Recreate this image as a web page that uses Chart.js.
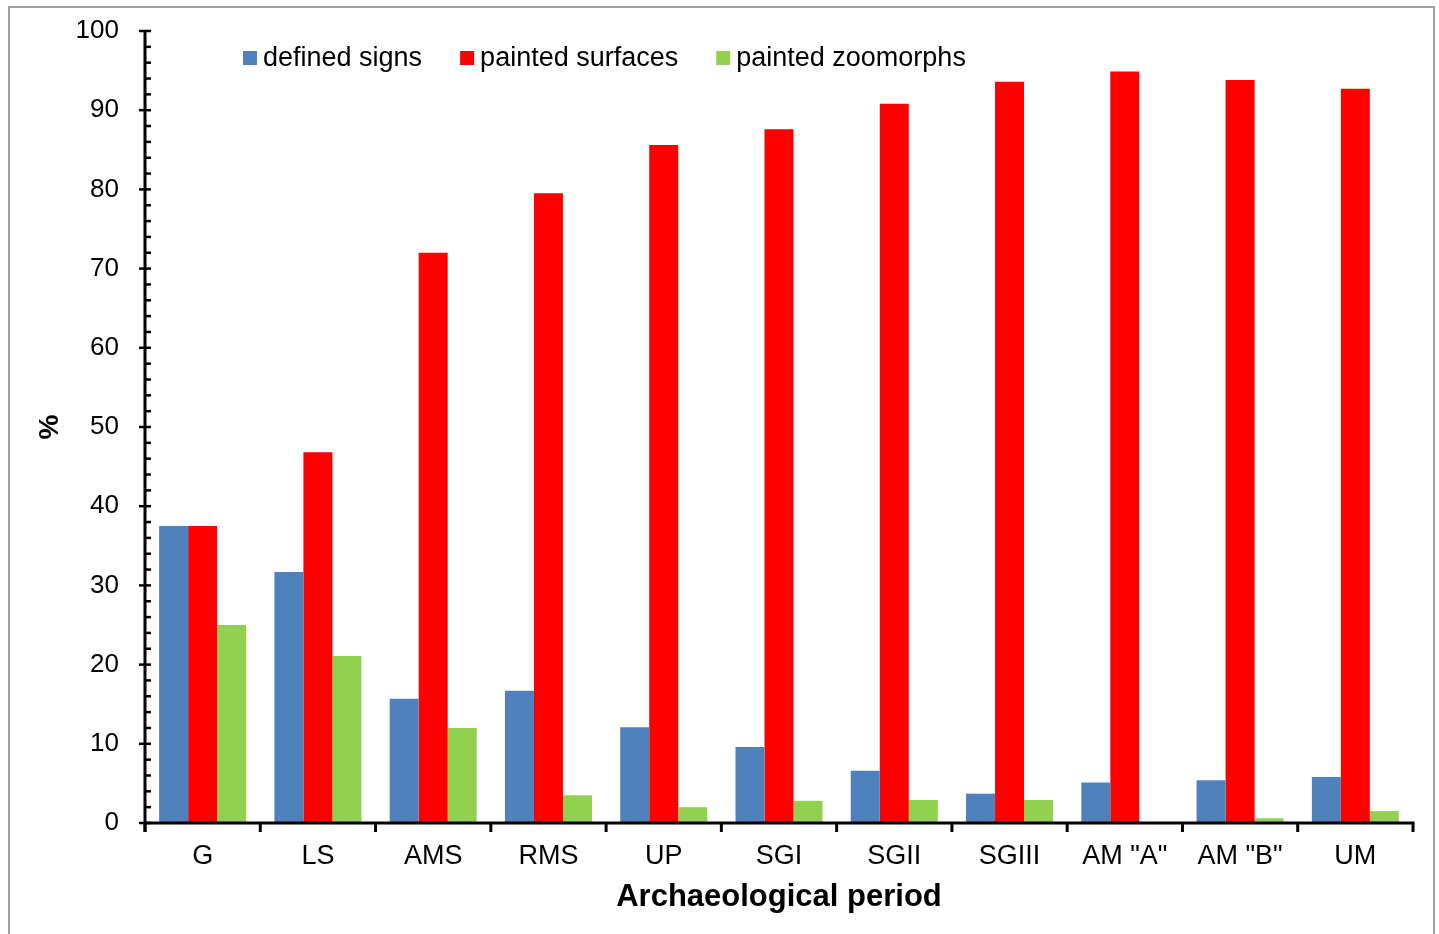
<!DOCTYPE html>
<html lang="en">
<head>
    <meta charset="UTF-8">
    <title>Archaeological period chart</title>
    <script src="https://cdn.jsdelivr.net/npm/chart.js"></script>
    <style>
        body { margin: 0; background: #fff; }
        #wrap { width: 1439px; height: 934px; position: relative; }
    </style>
</head>
<body>
    <div id="wrap"><canvas id="periodChart"></canvas></div>

    <script>
        // categories (archaeological periods)
        const periods = ['G', 'LS', 'AMS', 'RMS', 'UP', 'SGI', 'SGII', 'SGIII', 'AM "A"', 'AM "B"', 'UM'];

        // series values, %
        const definedSigns      = [37.5, 31.7, 15.7, 16.7, 12.1, 9.6, 6.6, 3.7, 5.1, 5.4, 5.8];
        const paintedSurfaces   = [37.5, 46.8, 72.0, 79.5, 85.6, 87.6, 90.8, 93.6, 94.9, 93.8, 92.7];
        const paintedZoomorphs  = [25.0, 21.1, 12.0, 3.5, 2.0, 2.8, 2.9, 2.9, 0, 0.6, 1.5];

        const seriesNames = ['defined signs', 'painted surfaces', 'painted zoomorphs'];
        const yTicksMajor = [0, 10, 20, 30, 40, 50, 60, 70, 80, 90, 100];

        const FONT = "'Liberation Sans', Arial, sans-serif";

        // axes, tick marks, frame and legend drawn by hand (Excel look)
        const excelAxes = {
            id: 'excelAxes',
            afterDraw(chart) {
                const ctx = chart.ctx;
                const area = chart.chartArea;
                const xs = chart.scales.x;
                const ys = chart.scales.y;
                ctx.save();

                // outer frame
                ctx.strokeStyle = '#a0a0a0';
                ctx.lineWidth = 2;
                ctx.strokeRect(9, 7, 1425, 940);

                ctx.strokeStyle = '#000';
                ctx.lineWidth = 3;
                ctx.lineCap = 'butt';

                // y axis line
                ctx.beginPath();
                ctx.moveTo(area.left, area.top - 1);
                ctx.lineTo(area.left, area.bottom + 9);
                ctx.stroke();

                // x axis line
                ctx.beginPath();
                ctx.moveTo(area.left, area.bottom);
                ctx.lineTo(area.right + 1.5, area.bottom);
                ctx.stroke();

                // y ticks: major crosses, minor inside
                ctx.lineWidth = 2.5;
                for (let v = 0; v <= 100; v += 2) {
                    const y = ys.getPixelForValue(v);
                    ctx.beginPath();
                    if (yTicksMajor.includes(v)) {
                        ctx.moveTo(area.left - 6, y);
                    } else {
                        ctx.moveTo(area.left, y);
                    }
                    ctx.lineTo(area.left + 6, y);
                    ctx.stroke();
                }

                // x ticks at category boundaries
                ctx.lineWidth = 3;
                for (let i = 0; i <= periods.length; i++) {
                    let x;
                    if (i === 0) x = area.left;
                    else if (i === periods.length) x = area.right;
                    else x = (xs.getPixelForValue(i - 1) + xs.getPixelForValue(i)) / 2;
                    ctx.beginPath();
                    ctx.moveTo(x, area.bottom);
                    ctx.lineTo(x, area.bottom + 9);
                    ctx.stroke();
                }

                // legend inside the plot
                ctx.font = '27px ' + FONT;
                ctx.textBaseline = 'middle';
                ctx.textAlign = 'left';
                let lx = 243;
                const ly = 58;
                chart.data.datasets.forEach(ds => {
                    ctx.fillStyle = ds.backgroundColor;
                    ctx.fillRect(lx, ly - 7, 14, 14);
                    ctx.fillStyle = '#000';
                    ctx.fillText(ds.label, lx + 20, ly + 1);
                    lx += 20 + ctx.measureText(ds.label).width + 38;
                });

                ctx.restore();
            }
        };

        const ctx = document.getElementById('periodChart').getContext('2d');
        const periodChart = new Chart(ctx, {
            type: 'bar',
            data: {
                labels: periods,
                datasets: [
                    { label: seriesNames[0], data: definedSigns, backgroundColor: '#4F81BD' },
                    { label: seriesNames[1], data: paintedSurfaces, backgroundColor: '#FF0000' },
                    { label: seriesNames[2], data: paintedZoomorphs, backgroundColor: '#92D050' }
                ]
            },
            options: {
                responsive: true,
                maintainAspectRatio: false,
                animation: false,
                layout: { padding: { left: 0, right: 26, top: 31, bottom: 0 } },
                datasets: {
                    bar: { categoryPercentage: 0.755, barPercentage: 1.0, borderWidth: 0 }
                },
                plugins: {
                    legend: { display: false },
                    tooltip: { enabled: false }
                },
                scales: {
                    x: {
                        grid: { display: false, drawTicks: false },
                        border: { display: false },
                        ticks: {
                            color: '#000',
                            font: { family: FONT, size: 27 },
                            padding: 17,
                            maxRotation: 0,
                            autoSkip: false
                        },
                        title: {
                            display: true,
                            text: 'Archaeological period',
                            color: '#000',
                            font: { family: FONT, size: 31, weight: 'bold' },
                            padding: { top: 0, bottom: 18 }
                        },
                        afterFit: s => { s.height = 111; }
                    },
                    y: {
                        min: 0,
                        max: 100,
                        grid: { display: false, drawTicks: false },
                        border: { display: false },
                        ticks: {
                            stepSize: 10,
                            color: '#000',
                            font: { family: FONT, size: 26 },
                            padding: 26
                        },
                        title: {
                            display: true,
                            text: '%',
                            color: '#000',
                            font: { family: FONT, size: 28, weight: 'bold' },
                            padding: { top: 33 }
                        },
                        afterFit: s => {
                            s.width = 145;
                            // label padding should not push the plot down
                            s.paddingTop = 10;
                            s.paddingBottom = 10;
                        }
                    }
                }
            },
            plugins: [excelAxes]
        });
    </script>
</body>
</html>
